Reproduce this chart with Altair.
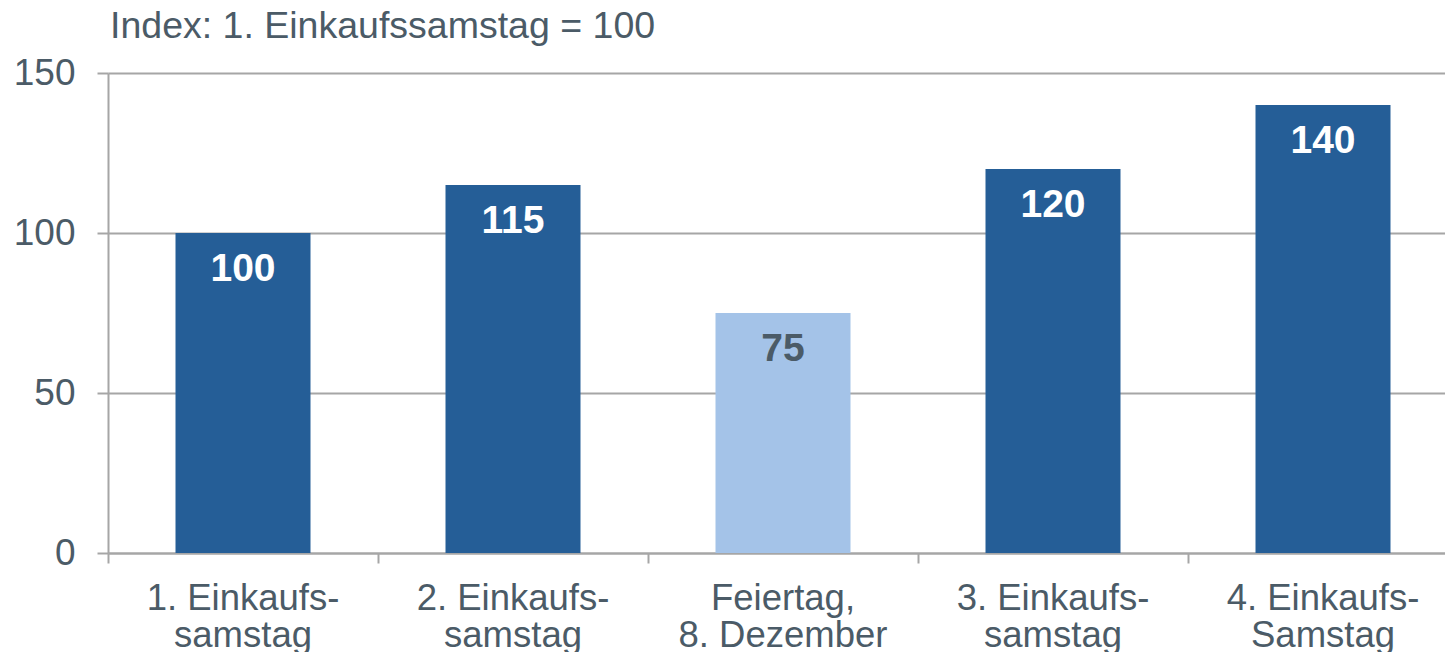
import altair as alt
import pandas as pd

categories = ["1. Einkaufs-\nsamstag", "2. Einkaufs-\nsamstag", "Feiertag,\n8. Dezember",
              "3. Einkaufs-\nsamstag", "4. Einkaufs-\nSamstag"]
values = [100, 115, 75, 120, 140]
kinds = ["Samstag", "Samstag", "Feiertag", "Samstag", "Samstag"]
title_text = "Index: 1. Einkaufssamstag = 100"
y_ticks = [0, 50, 100, 150]

df = pd.DataFrame({"cat": categories, "val": values, "kind": kinds})

TXT = "#4B5B67"
GRID = "#A6A6A6"
FONT = "Liberation Sans"

x = alt.X("cat:N", sort=categories, title=None,
          scale=alt.Scale(paddingInner=0, paddingOuter=0),
          axis=alt.Axis(labelAngle=0, labelExpr="split(datum.label, '\\n')",
                        bandPosition=0, labelOffset=0, tickSize=10, tickColor=GRID,
                        tickWidth=2, domainColor=GRID, domainWidth=2,
                        labelFontSize=36.5, labelColor=TXT, labelFont=FONT,
                        labelPadding=17, labelLineHeight=37, grid=False,
                        labelBaseline="top", labelLimit=1000))

y = alt.Y("val:Q", title=None,
          scale=alt.Scale(domain=[0, 150], nice=False, zero=True),
          axis=alt.Axis(values=y_ticks, grid=True, gridColor=GRID, gridWidth=2,
                        domainColor=GRID, domainWidth=2, tickColor=GRID, tickWidth=2,
                        tickSize=11, labelFontSize=37, labelColor=TXT, labelFont=FONT,
                        labelPadding=22))

bars = alt.Chart(df).mark_bar(width=alt.RelativeBandSize(0.5)).encode(
    x=x, y=y,
    color=alt.Color("kind:N", legend=None,
                    scale=alt.Scale(domain=["Samstag", "Feiertag"], range=["#255E97", "#A4C3E8"])),
)

labels = alt.Chart(df).mark_text(font=FONT, fontSize=39, fontWeight="bold",
                                 baseline="middle", dy=36).encode(
    x=alt.X("cat:N", sort=categories),
    y=alt.Y("val:Q"),
    text=alt.Text("val:Q"),
    color=alt.Color("kind:N", legend=None,
                    scale=alt.Scale(domain=["Samstag", "Feiertag"], range=["#FFFFFF", "#4B5B67"])),
)

title = alt.Chart(pd.DataFrame({"t": [title_text]})).mark_text(
    font=FONT, fontSize=37.5, color=TXT, align="left", baseline="alphabetic").encode(
    x=alt.value(2), y=alt.value(-35), text="t:N")

chart = alt.layer(bars, labels, title).resolve_scale(color="independent").properties(
    width=1350, height=480,
    autosize=alt.AutoSizeParams(type="none"),
    padding={"left": 100, "top": 65, "right": -13, "bottom": 99},
).configure_view(stroke=None)

chart.save("out.html", embed_options={"renderer": "svg", "actions": False})
